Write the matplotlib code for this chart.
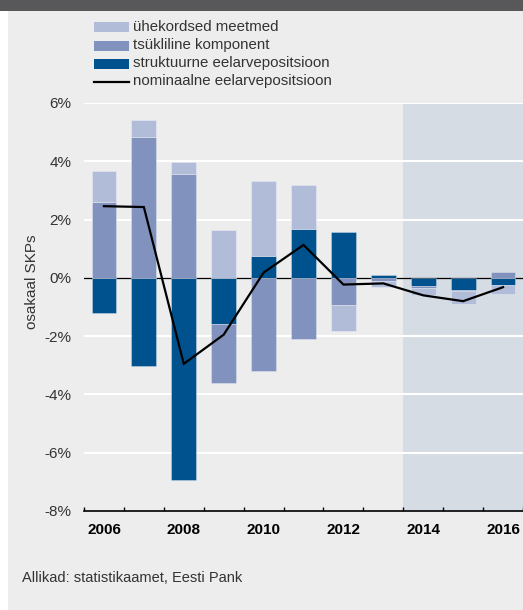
import matplotlib
matplotlib.use("Agg")
import matplotlib.pyplot as plt
from matplotlib.patches import Rectangle
import numpy as np

plt.rcParams['font.family'] = ['Liberation Sans', 'DejaVu Sans']

years = [2006, 2007, 2008, 2009, 2010, 2011, 2012, 2013, 2014, 2015, 2016]
structural = [-1.21, -3.01, -6.95, -1.60, 0.76, 1.69, 1.57, 0.10, -0.28, -0.40, -0.25]
cyclical = [2.62, 4.84, 3.58, -2.01, -3.19, -2.11, -0.94, -0.10, -0.07, -0.05, 0.20]
oneoff = [1.06, 0.57, 0.38, 1.64, 2.58, 1.51, -0.89, -0.21, -0.25, -0.43, -0.32]
nominal = [2.46, 2.43, -2.95, -1.95, 0.18, 1.13, -0.23, -0.19, -0.60, -0.80, -0.32]
yticks = [-8, -6, -4, -2, 0, 2, 4, 6]
xlabels = [2006, 2008, 2010, 2012, 2014, 2016]
legend_labels = ["ühekordsed meetmed", "tsükliline komponent",
                 "struktuurne eelarvepositsioon", "nominaalne eelarvepositsioon"]
forecast_start = 2013.5

c_light = '#b1bcd9'
c_mid = '#8292bf'
c_dark = '#00528f'
c_shade = '#d5dce4'
c_bg = '#ecedec'
c_text = '#333333'

W, H = 523, 610
fig = plt.figure(figsize=(W / 100, H / 100), dpi=100)
fig.patch.set_facecolor('white')

bg = fig.add_axes([0, 0, 1, 1], zorder=0)
bg.set_xlim(0, W)
bg.set_ylim(H, 0)
bg.axis('off')
bg.add_patch(Rectangle((8, 0), W - 8, H, color=c_bg, lw=0))
bg.add_patch(Rectangle((0, 0), W, 11, color='#58585a', lw=0))

# legend (manual)
leg_y = [27, 45.5, 63.5, 81.5]
cols = [c_light, c_mid, c_dark]
for i, lab in enumerate(legend_labels):
    y = leg_y[i]
    if i < 3:
        bg.add_patch(Rectangle((94, y - 5), 35, 10, color=cols[i], lw=0))
    else:
        bg.plot([94, 129], [y, y], color='black', lw=1.6)
    bg.text(133, y, lab, fontsize=10.8, color=c_text, va='center', ha='left')

px_per_year = 40.4
ax = fig.add_axes([84 / W, (H - 511) / H, (W - 84) / W, 408 / H], zorder=1)
ax.patch.set_alpha(0)
x0 = 2005.5
ax.set_xlim(x0, x0 + (W - 84) / px_per_year)
ax.set_ylim(-8, 6)

ax.axvspan(forecast_start, 2020, color=c_shade, lw=0, zorder=0.5)
for v in yticks:
    if v not in (0, -8):
        ax.axhline(v, color='white', lw=1.5, zorder=1)
ax.axhline(0, color='black', lw=0.9, zorder=1.5)

x = np.array(years, dtype=float)
pos = np.zeros(len(years))
neg = np.zeros(len(years))
bw = 0.62
for vals, col in [(structural, c_dark), (cyclical, c_mid), (oneoff, c_light)]:
    vals = np.array(vals)
    bottoms = np.where(vals >= 0, pos, neg)
    ax.bar(x, vals, bw, bottom=bottoms, color=col, edgecolor=(1, 1, 1, 0.35),
           linewidth=0.6, zorder=2)
    pos = pos + np.where(vals >= 0, vals, 0)
    neg = neg + np.where(vals < 0, vals, 0)

ax.plot(x, nominal, color='black', lw=1.6, zorder=3, solid_joinstyle='miter')

for s in ['top', 'right', 'left']:
    ax.spines[s].set_visible(False)
ax.spines['bottom'].set_color('black')
ax.spines['bottom'].set_linewidth(1.2)

ax.set_yticks(yticks)
ax.set_yticklabels([f"{v}%" for v in yticks], fontsize=11, color=c_text)
ax.tick_params(axis='y', length=0, pad=9)

ax.set_xticks(xlabels)
ax.set_xticklabels([str(v) for v in xlabels], fontsize=11, fontweight='bold', color='black')
ax.set_xticks(np.arange(2005.5, 2017, 1.0), minor=True)
ax.tick_params(axis='x', which='major', length=0, pad=9)
ax.tick_params(axis='x', which='minor', direction='in', length=3.2, width=1, color='black')

fig.text(32 / W, 1 - 282 / H, "osakaal SKPs", rotation=90, ha='center', va='center',
         fontsize=11, color=c_text)
fig.text(21.5 / W, 1 - 578 / H, "Allikad: statistikaamet, Eesti Pank", ha='left', va='center',
         fontsize=10.5, color=c_text)

fig.savefig('out.png', dpi=100, facecolor=fig.get_facecolor())
